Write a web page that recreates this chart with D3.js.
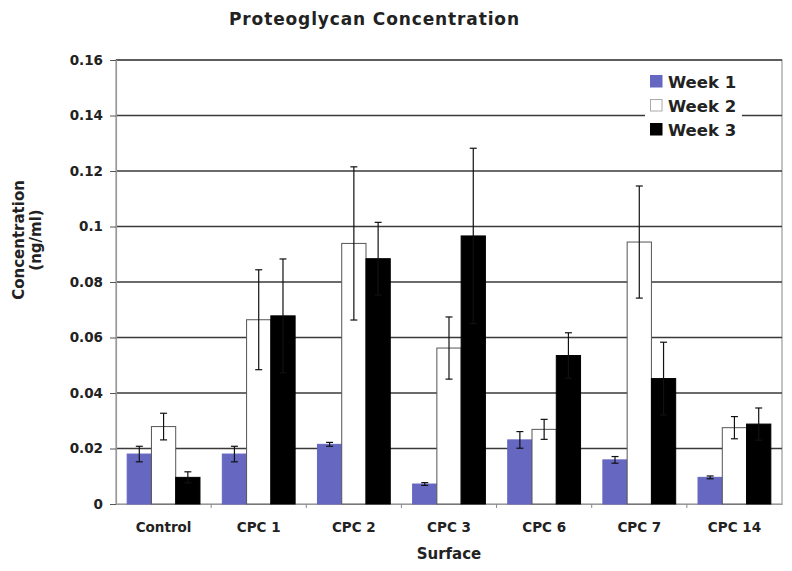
<!DOCTYPE html>
<html><head><meta charset="utf-8">
<script src="https://cdn.jsdelivr.net/npm/d3@7"></script>
<style>body{margin:0;background:#fff}svg{display:block}text{font-family:"DejaVu Sans",Verdana,sans-serif;font-weight:bold;fill:#222}</style>
</head><body><svg id="c" width="792" height="571"></svg>
<script>
const categories = ["Control","CPC 1","CPC 2","CPC 3","CPC 6","CPC 7","CPC 14"];
const seriesNames = ["Week 1","Week 2","Week 3"];
const week1 = [0.018,0.018,0.0215,0.0072,0.0231,0.0159,0.0096];
const week2 = [0.0279,0.0664,0.0939,0.0562,0.0269,0.0944,0.0275];
const week3 = [0.0096,0.0678,0.0884,0.0966,0.0535,0.0452,0.0288];
const err1 = [0.0028,0.0028,0.0007,0.0005,0.003,0.0012,0.0005];
const err2 = [0.0048,0.018,0.0276,0.0112,0.0036,0.0202,0.004];
const err3 = [0.002,0.0205,0.0131,0.0316,0.0082,0.0131,0.0058];
const yTicks = [0,0.02,0.04,0.06,0.08,0.1,0.12,0.14,0.16];
const colors = ["#6567c0","#ffffff","#000000"];
const strokes = ["#6567c0","#555555","#000000"];

const svg = d3.select("#c");
const L=116, R=782, T=60, B=504;
const x = d3.scaleBand().domain(categories).range([L,R]).paddingInner(0).paddingOuter(0);
const inner = d3.scaleBand().domain(seriesNames).range([0,x.bandwidth()]).paddingInner(0).paddingOuter(0.46);
const y = d3.scaleLinear().domain([0,0.16]).range([B,T]);

// plot border
svg.append("rect").attr("x",L).attr("y",T).attr("width",R-L).attr("height",B-T)
  .attr("fill","none").attr("stroke","#9a9a9a").attr("stroke-width",1.2);
// gridlines
svg.append("g").selectAll("line").data(yTicks.filter(d=>d>0)).join("line")
  .attr("x1",L).attr("x2",R).attr("y1",d=>y(d)).attr("y2",d=>y(d))
  .attr("stroke","#3a3a3a").attr("stroke-width",1.4);

// y axis
const ya = svg.append("g").attr("transform",`translate(${L},0)`)
  .call(d3.axisLeft(y).tickValues(yTicks).tickSize(6).tickPadding(7).tickFormat(d=>d===0?"0":String(+d.toFixed(2))));
ya.select(".domain").attr("stroke","#9a9a9a").attr("stroke-width",1.2);
ya.selectAll(".tick line").attr("stroke","#555");
ya.selectAll("text").style("font-size","13.5px").attr("fill","#222");

// x axis
const xa = svg.append("g").attr("transform",`translate(0,${B})`)
  .call(d3.axisBottom(x).tickSize(0).tickPadding(18));
xa.select(".domain").attr("stroke","#9a9a9a").attr("stroke-width",1.2);
xa.selectAll("text").style("font-size","13.5px").attr("fill","#222");
svg.append("g").selectAll("line").data(categories.slice(1)).join("line")
  .attr("x1",d=>x(d)).attr("x2",d=>x(d)).attr("y1",B).attr("y2",B+4).attr("stroke","#888");

const series=[week1,week2,week3], errs=[err1,err2,err3];
const bars=[];
categories.forEach((c,i)=>seriesNames.forEach((s,j)=>bars.push({c,s,j,v:series[j][i],e:errs[j][i]})));

const g = svg.append("g");
g.selectAll("rect").data(bars).join("rect")
  .attr("x",d=>x(d.c)+inner(d.s)).attr("width",inner.bandwidth())
  .attr("y",d=>y(d.v)).attr("height",d=>B-y(d.v))
  .attr("fill",d=>colors[d.j]).attr("stroke",d=>strokes[d.j]).attr("stroke-width",1);

// error bars
const eg = svg.append("g").attr("stroke","#111").attr("stroke-width",1.2);
bars.forEach(d=>{
  const cx = x(d.c)+inner(d.s)+inner.bandwidth()/2;
  eg.append("line").attr("x1",cx).attr("x2",cx).attr("y1",y(d.v+d.e)).attr("y2",y(d.v-d.e));
  [d.v+d.e,d.v-d.e].forEach(v=>eg.append("line").attr("x1",cx-3.5).attr("x2",cx+3.5).attr("y1",y(v)).attr("y2",y(v)));
});

// legend
const lg = svg.append("g");
lg.append("rect").attr("x",645).attr("y",67).attr("width",97).attr("height",74).attr("fill","#fff");
seriesNames.forEach((s,j)=>{
  const yy = 81.5 + j*24;
  lg.append("rect").attr("x",650.5).attr("y",yy-6).attr("width",11.5).attr("height",11.5)
    .attr("fill",colors[j]).attr("stroke",j===1?"#aaa":colors[j]).attr("stroke-width",1);
  lg.append("text").attr("x",668).attr("y",yy+6).text(s).style("font-size","16.5px");
});

// titles
svg.append("text").attr("x",374).attr("y",25).attr("text-anchor","middle").style("font-size","17px")
  .attr("textLength",290).attr("lengthAdjust","spacing").text("Proteoglycan Concentration");
svg.append("text").attr("x",(L+R)/2).attr("y",559).attr("text-anchor","middle").style("font-size","15px").text("Surface");
const yt = svg.append("text").attr("transform","translate(24,240) rotate(-90)").attr("text-anchor","middle").style("font-size","15px");
yt.append("tspan").attr("x",0).attr("dy",0).text("Concentration");
yt.append("tspan").attr("x",0).attr("dy",17).text("(ng/ml)");
</script></body></html>
